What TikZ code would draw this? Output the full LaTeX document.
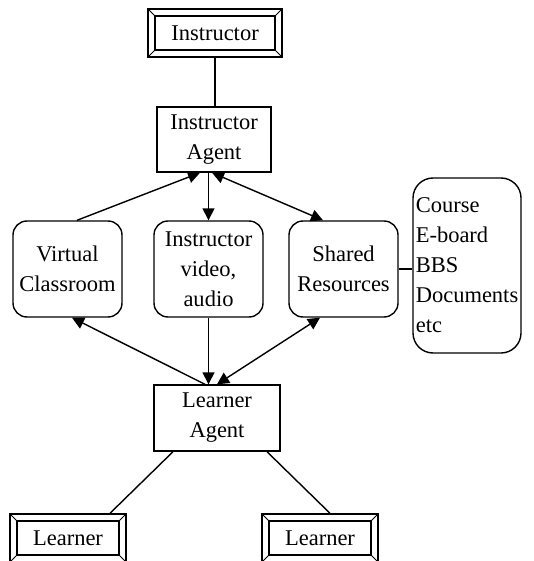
\documentclass[tikz,border=0pt]{standalone}
\usepackage{fontspec}
\setmainfont{Liberation Serif}
\newfontfamily\tnrfont{Liberation Serif}
\usetikzlibrary{arrows.meta,calc}
\tikzset{
  lw/.style={line width=1.4pt},
  txt/.style={font=\tnrfont\fontsize{22.5}{30}\selectfont, inner sep=0pt},
  sqbox/.style={lw, draw, rectangle, txt, align=center, minimum width=#1},
  rbox/.style={lw, draw, rectangle, rounded corners=14pt, txt, align=center, minimum width=109pt, minimum height=96pt},
  bevel/.style={lw, draw, rectangle, txt, minimum width=#1, minimum height=48pt,
    path picture={
      \coordinate (nw) at (path picture bounding box.north west);
      \coordinate (se) at (path picture bounding box.south east);
      \coordinate (ne) at (path picture bounding box.north east);
      \coordinate (sw) at (path picture bounding box.south west);
      \draw[line width=1.2pt] ([shift={(7pt,-7pt)}]nw) rectangle ([shift={(-7pt,7pt)}]se);
      \draw[line width=1pt] (nw) -- ([shift={(7pt,-7pt)}]nw)
                               (ne) -- ([shift={(-7pt,-7pt)}]ne)
                               (sw) -- ([shift={(7pt,7pt)}]sw)
                               (se) -- ([shift={(-7pt,7pt)}]se);
    }},
  conn/.style={lw},
  arr/.style={lw, -{Triangle[length=12pt,width=12pt]}},
  darr/.style={lw, {Triangle[length=12pt,width=12pt]}-{Triangle[length=12pt,width=12pt]}},
}
\begin{document}
\begin{tikzpicture}[x=1pt,y=-1pt]
\useasboundingbox (0,0) rectangle (533,561);
\clip (0,0) rectangle (533,561);
\fill[white] (0,0) rectangle (533,561);

\node[bevel=134pt] (instr) at (215,33) {Instructor};
\node[sqbox=114pt, minimum height=65pt] (ia) at (214,139.5) {Instructor\\Agent};
\node[rbox] (vc) at (67.5,269) {Virtual\\Classroom};
\node[rbox] (video) at (208.5,269) {Instructor\\video,\\audio};
\node[rbox] (sr) at (343.5,269) {Shared\\Resources};
\node[lw, draw, rectangle, rounded corners=20pt, txt, align=left, minimum width=108pt, minimum height=175pt] (course) at (467,265.5) {Course\\E-board\\BBS\\Documents\\etc};
\node[sqbox=126pt, minimum height=66pt] (la) at (217,418) {Learner\\Agent};
\node[bevel=116pt] (l1) at (68,538) {Learner};
\node[bevel=116pt] (l2) at (320,538) {Learner};

\draw[conn] (instr.south) -- (instr.south |- ia.north);
\draw[arr] ([xshift=9.5pt]vc.north) -- ([xshift=-14pt]ia.south);
\draw[arr] ([xshift=-5.5pt]ia.south) -- (video.north);
\draw[darr] ([xshift=-2pt]ia.south) -- ([xshift=-20.5pt]sr.north);
\draw[arr] ([xshift=-12pt]la.north) -- ([xshift=4.5pt]vc.south);
\draw[arr] (video.south) -- (video.south |- la.north);
\draw[darr] ([xshift=-23.5pt]sr.south) -- (la.north);
\draw[conn] (sr.east) -- (sr.east -| course.west);
\draw[conn] ([xshift=-44pt]la.south) -- ([xshift=42pt]l1.north);
\draw[conn] ([xshift=50pt]la.south) -- ([xshift=10pt]l2.north);
\end{tikzpicture}
\end{document}
